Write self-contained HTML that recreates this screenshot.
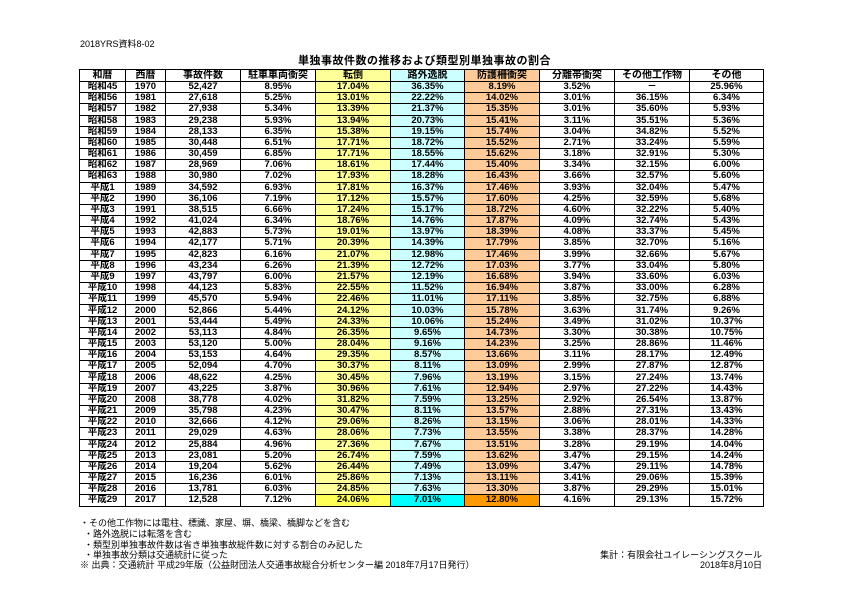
<!DOCTYPE html>
<html><head><meta charset="utf-8">
<style>
body{margin:0;width:842px;height:596px;background:#fff;position:relative;font-family:"Liberation Sans","Noto Sans CJK JP",sans-serif;color:#000;overflow:hidden}
.t{position:absolute;white-space:nowrap}
table{position:absolute;left:79px;top:69px;border-collapse:collapse;table-layout:fixed;border:1.5px solid #000}
td{border:1px solid #000;height:10.18px;padding:0;text-align:center;font-size:9.5px;font-weight:bold;line-height:10px;overflow:hidden;white-space:nowrap}
tr.h td{height:11px;font-size:10px}
td:nth-child(5){background:#ffff99}
td:nth-child(6){background:#ccffff}
td:nth-child(7){background:#ffcc99}
tr.l td:nth-child(5){background:#ffff55}
tr.l td:nth-child(6){background:#00ffff}
tr.l td:nth-child(7){background:#ff9900}
.n{font-size:9px}
</style></head><body>
<div class="t" style="left:80px;top:37px;font-size:9px">2018YRS資料8-02</div>
<div class="t" style="left:298px;top:52px;font-size:11px;font-weight:bold;letter-spacing:0.5px">単独事故件数の推移および類型別単独事故の割合</div>
<table>
<colgroup><col style="width:46px"><col style="width:40px"><col style="width:75px"><col style="width:75px"><col style="width:75px"><col style="width:74px"><col style="width:75px"><col style="width:75px"><col style="width:75px"><col style="width:74px"></colgroup>
<tr class="h"><td>和暦</td><td>西暦</td><td>事故件数</td><td>駐車車両衝突</td><td>転倒</td><td>路外逸脱</td><td>防護柵衝突</td><td>分離帯衝突</td><td>その他工作物</td><td>その他</td></tr>
<tr><td>昭和45</td><td>1970</td><td>52,427</td><td>8.95%</td><td>17.04%</td><td>36.35%</td><td>8.19%</td><td>3.52%</td><td>－</td><td>25.96%</td></tr>
<tr><td>昭和56</td><td>1981</td><td>27,618</td><td>5.25%</td><td>13.01%</td><td>22.22%</td><td>14.02%</td><td>3.01%</td><td>36.15%</td><td>6.34%</td></tr>
<tr><td>昭和57</td><td>1982</td><td>27,938</td><td>5.34%</td><td>13.39%</td><td>21.37%</td><td>15.35%</td><td>3.01%</td><td>35.60%</td><td>5.93%</td></tr>
<tr><td>昭和58</td><td>1983</td><td>29,238</td><td>5.93%</td><td>13.94%</td><td>20.73%</td><td>15.41%</td><td>3.11%</td><td>35.51%</td><td>5.36%</td></tr>
<tr><td>昭和59</td><td>1984</td><td>28,133</td><td>6.35%</td><td>15.38%</td><td>19.15%</td><td>15.74%</td><td>3.04%</td><td>34.82%</td><td>5.52%</td></tr>
<tr><td>昭和60</td><td>1985</td><td>30,448</td><td>6.51%</td><td>17.71%</td><td>18.72%</td><td>15.52%</td><td>2.71%</td><td>33.24%</td><td>5.59%</td></tr>
<tr><td>昭和61</td><td>1986</td><td>30,459</td><td>6.85%</td><td>17.71%</td><td>18.55%</td><td>15.62%</td><td>3.18%</td><td>32.91%</td><td>5.30%</td></tr>
<tr><td>昭和62</td><td>1987</td><td>28,969</td><td>7.06%</td><td>18.61%</td><td>17.44%</td><td>15.40%</td><td>3.34%</td><td>32.15%</td><td>6.00%</td></tr>
<tr><td>昭和63</td><td>1988</td><td>30,980</td><td>7.02%</td><td>17.93%</td><td>18.28%</td><td>16.43%</td><td>3.66%</td><td>32.57%</td><td>5.60%</td></tr>
<tr><td>平成1</td><td>1989</td><td>34,592</td><td>6.93%</td><td>17.81%</td><td>16.37%</td><td>17.46%</td><td>3.93%</td><td>32.04%</td><td>5.47%</td></tr>
<tr><td>平成2</td><td>1990</td><td>36,106</td><td>7.19%</td><td>17.12%</td><td>15.57%</td><td>17.60%</td><td>4.25%</td><td>32.59%</td><td>5.68%</td></tr>
<tr><td>平成3</td><td>1991</td><td>38,515</td><td>6.66%</td><td>17.24%</td><td>15.17%</td><td>18.72%</td><td>4.60%</td><td>32.22%</td><td>5.40%</td></tr>
<tr><td>平成4</td><td>1992</td><td>41,024</td><td>6.34%</td><td>18.76%</td><td>14.76%</td><td>17.87%</td><td>4.09%</td><td>32.74%</td><td>5.43%</td></tr>
<tr><td>平成5</td><td>1993</td><td>42,883</td><td>5.73%</td><td>19.01%</td><td>13.97%</td><td>18.39%</td><td>4.08%</td><td>33.37%</td><td>5.45%</td></tr>
<tr><td>平成6</td><td>1994</td><td>42,177</td><td>5.71%</td><td>20.39%</td><td>14.39%</td><td>17.79%</td><td>3.85%</td><td>32.70%</td><td>5.16%</td></tr>
<tr><td>平成7</td><td>1995</td><td>42,823</td><td>6.16%</td><td>21.07%</td><td>12.98%</td><td>17.46%</td><td>3.99%</td><td>32.66%</td><td>5.67%</td></tr>
<tr><td>平成8</td><td>1996</td><td>43,234</td><td>6.26%</td><td>21.39%</td><td>12.72%</td><td>17.03%</td><td>3.77%</td><td>33.04%</td><td>5.80%</td></tr>
<tr><td>平成9</td><td>1997</td><td>43,797</td><td>6.00%</td><td>21.57%</td><td>12.19%</td><td>16.68%</td><td>3.94%</td><td>33.60%</td><td>6.03%</td></tr>
<tr><td>平成10</td><td>1998</td><td>44,123</td><td>5.83%</td><td>22.55%</td><td>11.52%</td><td>16.94%</td><td>3.87%</td><td>33.00%</td><td>6.28%</td></tr>
<tr><td>平成11</td><td>1999</td><td>45,570</td><td>5.94%</td><td>22.46%</td><td>11.01%</td><td>17.11%</td><td>3.85%</td><td>32.75%</td><td>6.88%</td></tr>
<tr><td>平成12</td><td>2000</td><td>52,866</td><td>5.44%</td><td>24.12%</td><td>10.03%</td><td>15.78%</td><td>3.63%</td><td>31.74%</td><td>9.26%</td></tr>
<tr><td>平成13</td><td>2001</td><td>53,444</td><td>5.49%</td><td>24.33%</td><td>10.06%</td><td>15.24%</td><td>3.49%</td><td>31.02%</td><td>10.37%</td></tr>
<tr><td>平成14</td><td>2002</td><td>53,113</td><td>4.84%</td><td>26.35%</td><td>9.65%</td><td>14.73%</td><td>3.30%</td><td>30.38%</td><td>10.75%</td></tr>
<tr><td>平成15</td><td>2003</td><td>53,120</td><td>5.00%</td><td>28.04%</td><td>9.16%</td><td>14.23%</td><td>3.25%</td><td>28.86%</td><td>11.46%</td></tr>
<tr><td>平成16</td><td>2004</td><td>53,153</td><td>4.64%</td><td>29.35%</td><td>8.57%</td><td>13.66%</td><td>3.11%</td><td>28.17%</td><td>12.49%</td></tr>
<tr><td>平成17</td><td>2005</td><td>52,094</td><td>4.70%</td><td>30.37%</td><td>8.11%</td><td>13.09%</td><td>2.99%</td><td>27.87%</td><td>12.87%</td></tr>
<tr><td>平成18</td><td>2006</td><td>48,622</td><td>4.25%</td><td>30.45%</td><td>7.96%</td><td>13.19%</td><td>3.15%</td><td>27.24%</td><td>13.74%</td></tr>
<tr><td>平成19</td><td>2007</td><td>43,225</td><td>3.87%</td><td>30.96%</td><td>7.61%</td><td>12.94%</td><td>2.97%</td><td>27.22%</td><td>14.43%</td></tr>
<tr><td>平成20</td><td>2008</td><td>38,778</td><td>4.02%</td><td>31.82%</td><td>7.59%</td><td>13.25%</td><td>2.92%</td><td>26.54%</td><td>13.87%</td></tr>
<tr><td>平成21</td><td>2009</td><td>35,798</td><td>4.23%</td><td>30.47%</td><td>8.11%</td><td>13.57%</td><td>2.88%</td><td>27.31%</td><td>13.43%</td></tr>
<tr><td>平成22</td><td>2010</td><td>32,666</td><td>4.12%</td><td>29.06%</td><td>8.26%</td><td>13.15%</td><td>3.06%</td><td>28.01%</td><td>14.33%</td></tr>
<tr><td>平成23</td><td>2011</td><td>29,029</td><td>4.63%</td><td>28.06%</td><td>7.73%</td><td>13.55%</td><td>3.38%</td><td>28.37%</td><td>14.28%</td></tr>
<tr><td>平成24</td><td>2012</td><td>25,884</td><td>4.96%</td><td>27.36%</td><td>7.67%</td><td>13.51%</td><td>3.28%</td><td>29.19%</td><td>14.04%</td></tr>
<tr><td>平成25</td><td>2013</td><td>23,081</td><td>5.20%</td><td>26.74%</td><td>7.59%</td><td>13.62%</td><td>3.47%</td><td>29.15%</td><td>14.24%</td></tr>
<tr><td>平成26</td><td>2014</td><td>19,204</td><td>5.62%</td><td>26.44%</td><td>7.49%</td><td>13.09%</td><td>3.47%</td><td>29.11%</td><td>14.78%</td></tr>
<tr><td>平成27</td><td>2015</td><td>16,236</td><td>6.01%</td><td>25.86%</td><td>7.13%</td><td>13.11%</td><td>3.41%</td><td>29.06%</td><td>15.39%</td></tr>
<tr><td>平成28</td><td>2016</td><td>13,781</td><td>6.03%</td><td>24.85%</td><td>7.63%</td><td>13.30%</td><td>3.87%</td><td>29.29%</td><td>15.01%</td></tr>
<tr class="l"><td>平成29</td><td>2017</td><td>12,528</td><td>7.12%</td><td>24.06%</td><td>7.01%</td><td>12.80%</td><td>4.16%</td><td>29.13%</td><td>15.72%</td></tr>
</table>
<div class="t n" style="left:80px;top:516px">・その他工作物には電柱、標識、家屋、塀、橋梁、橋脚などを含む</div>
<div class="t n" style="left:84px;top:527px">・路外逸脱には転落を含む</div>
<div class="t n" style="left:84px;top:538px">・類型別単独事故件数は省き単独事故総件数に対する割合のみ記した</div>
<div class="t n" style="left:84px;top:548px">・単独事故分類は交通統計に従った</div>
<div class="t n" style="left:80px;top:558px">※ 出典：交通統計 平成29年版（公益財団法人交通事故総合分析センター編 2018年7月17日発行）</div>
<div class="t n" style="right:80px;top:548px">集計：有限会社ユイレーシングスクール</div>
<div class="t n" style="right:80px;top:558px">2018年8月10日</div>
</body></html>
